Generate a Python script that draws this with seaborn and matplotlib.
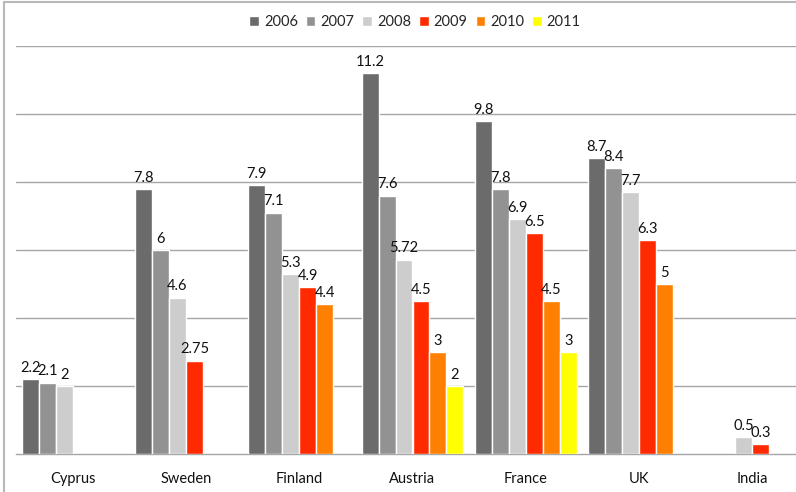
import numpy as np
import pandas as pd
import matplotlib
matplotlib.use("Agg")
import matplotlib.pyplot as plt
from matplotlib.patches import Rectangle
import seaborn as sns

countries = ["Cyprus", "Sweden", "Finland", "Austria", "France", "UK", "India"]
years = ["2006", "2007", "2008", "2009", "2010", "2011"]
nan = np.nan
v2006 = [2.2, 7.8, 7.9, 11.2, 9.8, 8.7, nan]
v2007 = [2.1, 6.0, 7.1, 7.6, 7.8, 8.4, nan]
v2008 = [2.0, 4.6, 5.3, 5.72, 6.9, 7.7, 0.5]
v2009 = [nan, 2.75, 4.9, 4.5, 6.5, 6.3, 0.3]
v2010 = [nan, nan, 4.4, 3.0, 4.5, 5.0, nan]
v2011 = [nan, nan, nan, 2.0, 3.0, nan, nan]
colors = ["#6b6b6b", "#929292", "#cdcdcd", "#ff2a00", "#ff7f00", "#ffff00"]

series = [v2006, v2007, v2008, v2009, v2010, v2011]
rows = []
for yr, vals in zip(years, series):
    for c, v in zip(countries, vals):
        rows.append({"country": c, "year": yr, "value": v})
df = pd.DataFrame(rows)

sns.set_style("white")
plt.rcParams["font.family"] = ["Lato", "DejaVu Sans"]

W, H = 796, 492
fig = plt.figure(figsize=(W / 100, H / 100), dpi=100)
# plot area runs a little past the right edge of the canvas
left_px, right_px, top_px, base_px = 16, 809, 46, 454
ax = fig.add_axes([left_px / W, 1 - base_px / H,
                   (right_px - left_px) / W, (base_px - top_px) / H])

sns.barplot(data=df.dropna(), x="country", y="value", hue="year",
            order=countries, hue_order=years, palette=colors,
            width=0.9, saturation=1, ax=ax, legend=True, zorder=3)

for cont in ax.containers:
    ax.bar_label(cont, fmt="{:g}", padding=3, fontsize=10.5, color="#111111",
                 clip_on=False)

ax.set_xlim(-0.5, len(countries) - 0.5)
ax.set_ylim(0, 12)
ax.set_yticks(np.arange(2, 13, 2))
ax.yaxis.grid(True, color="#a6a6a6", linewidth=1, zorder=0)
ax.set_axisbelow(True)
ax.tick_params(axis="y", left=False, labelleft=False)
ax.set_xlabel("")
ax.set_ylabel("")
ax.tick_params(axis="x", which="major", length=0, pad=13, labelsize=10.5,
               labelcolor="#111111")
ax.set_xticks(np.arange(-0.5, len(countries), 1), minor=True)
ax.tick_params(axis="x", which="minor", length=5, color="#a6a6a6", width=1)
for s in ["top", "right", "left"]:
    ax.spines[s].set_visible(False)
ax.spines["bottom"].set_color("#a6a6a6")
ax.spines["bottom"].set_linewidth(1)

handles, labels = ax.get_legend_handles_labels()
ax.legend(handles, labels, loc="center", bbox_to_anchor=(415 / W, 1 - 22 / H),
          bbox_transform=fig.transFigure, ncol=6, frameon=False, fontsize=10.5,
          handlelength=0.65, handleheight=0.65, handletextpad=0.35,
          columnspacing=0.55)

# outer chart frame
fig.patches.append(Rectangle((4 / W, -0.1), 1.2, 1.1 - 1.5 / H,
                             transform=fig.transFigure, fill=False,
                             edgecolor="#b8b8b8", linewidth=1.5))

fig.savefig("out.png", dpi=100)
